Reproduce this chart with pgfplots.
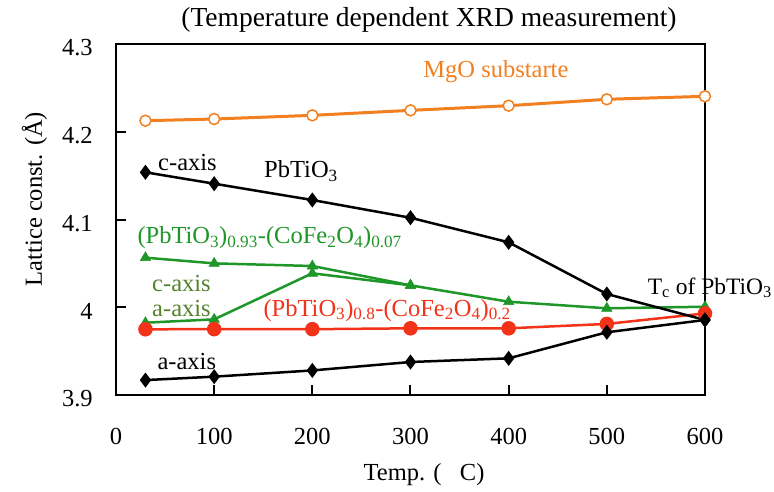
\documentclass[border=0pt]{standalone}
\usepackage{fontspec}
\setmainfont{Liberation Serif}
\usepackage{pgfplots}
\pgfplotsset{compat=1.18}
\definecolor{mgo}{RGB}{243,128,32}
\definecolor{grn}{RGB}{30,150,40}
\definecolor{olv}{RGB}{85,130,45}
\definecolor{rd}{RGB}{242,50,25}
\newcommand{\fs}{\fontsize{24.5}{29}\selectfont}
\begin{document}
\fs
\begin{tikzpicture}
\useasboundingbox (-116pt,-96pt) rectangle (658pt,395pt);
\begin{axis}[
  at={(0pt,0pt)}, anchor=south west,
  scale only axis, width=589pt, height=351pt,
  xmin=0, xmax=600, ymin=3.9, ymax=4.3,
  xtick={0,100,200,300,400,500,600},
  xticklabels={0,100,200,300,400,500,600},
  ytick={3.9,4,4.1,4.2,4.3},
  yticklabels={3.9,4,4.1,4.2,4.3},
  tick align=inside, xtick pos=bottom, ytick pos=left,
  major tick length=10pt,
  axis line style={line width=2.8pt},
  tick style={line width=2pt, black},
  tick label style={font=\fs},
  xticklabel style={yshift=-25pt},
  yticklabel style={xshift=-15pt, yshift=-4pt},
  clip=false,
]
% MgO substrate
\addplot[mgo, line width=3pt, mark=*, mark size=5.5pt, mark options={fill=white, draw=mgo, line width=1.5pt}]
  coordinates {(30,4.2126) (100,4.2145) (200,4.2187) (300,4.2244) (400,4.2297) (500,4.237) (600,4.2404)};
% (PbTiO3)0.93-(CoFe2O4)0.07 c-axis
\addplot[grn, line width=2.5pt, mark=triangle*, mark size=6pt, mark options={fill=grn, draw=grn, line width=0.5pt}]
  coordinates {(30,4.0565) (100,4.050) (200,4.047) (300,4.025) (400,4.0063) (500,3.9988) (600,4.0006)};
% (PbTiO3)0.93-(CoFe2O4)0.07 a-axis
\addplot[grn, line width=2.5pt, mark=triangle*, mark size=6pt, mark options={fill=grn, draw=grn, line width=0.5pt}]
  coordinates {(30,3.9824) (100,3.9862) (200,4.0387) (300,4.025)};
% (PbTiO3)0.8-(CoFe2O4)0.2
\addplot[rd, line width=2.5pt, mark=*, mark size=6pt, mark options={fill=rd, draw=rd}]
  coordinates {(30,3.9749) (100,3.975) (200,3.975) (300,3.976) (400,3.976) (500,3.981) (600,3.993)};
% PbTiO3 c-axis
\addplot[black, line width=2.5pt, mark=diamond*, mark size=5.5pt, mark options={fill=black}]
  coordinates {(30,4.1538) (100,4.1408) (200,4.1222) (300,4.1020) (400,4.074) (500,4.0151) (600,3.9855)};
% PbTiO3 a-axis
\addplot[black, line width=2.5pt, mark=diamond*, mark size=5.5pt, mark options={fill=black}]
  coordinates {(30,3.917) (100,3.9209) (200,3.928) (300,3.9376) (400,3.9418) (500,3.9715) (600,3.9855)};

\node[anchor=base, inner sep=0, font=\fontsize{27.5}{32}\selectfont] at (axis cs:318.8,4.3200) {(Temperature dependent XRD measurement)};
\node[anchor=base, inner sep=0] at (axis cs:313.8,3.8031) {Temp. (\hspace{0.75em}C)};
\node[anchor=base, inner sep=0, rotate=90] at (axis cs:-75.4,4.1234) {Lattice const. (Å)};
\node[anchor=base west, inner sep=0, text=mgo] at (axis cs:313,4.2613) {MgO substarte};
\node[anchor=base west, inner sep=0] at (axis cs:42.8,4.1564) {c-axis};
\node[anchor=base west, inner sep=0] at (axis cs:150.8,4.1473) {PbTiO\textsubscript{3}};
\node[anchor=base west, inner sep=0, text=grn] at (axis cs:21.7,4.0727) {(PbTiO\textsubscript{3})\textsubscript{0.93}-(CoFe\textsubscript{2}O\textsubscript{4})\textsubscript{0.07}};
\node[anchor=base west, inner sep=0, text=olv] at (axis cs:36.7,4.0185) {c-axis};
\node[anchor=base west, inner sep=0, text=olv] at (axis cs:36.7,3.9900) {a-axis};
\node[anchor=base west, inner sep=0, text=rd] at (axis cs:150.1,3.9900) {(PbTiO\textsubscript{3})\textsubscript{0.8}-(CoFe\textsubscript{2}O\textsubscript{4})\textsubscript{0.2}};
\node[anchor=base west, inner sep=0] at (axis cs:42.1,3.9285) {a-axis};
\node[anchor=base west, inner sep=0, font=\fontsize{23.5}{28}\selectfont] at (axis cs:541.5,4.0151) {T\textsubscript{c} of PbTiO\textsubscript{3}};
\end{axis}
\end{tikzpicture}
\end{document}
